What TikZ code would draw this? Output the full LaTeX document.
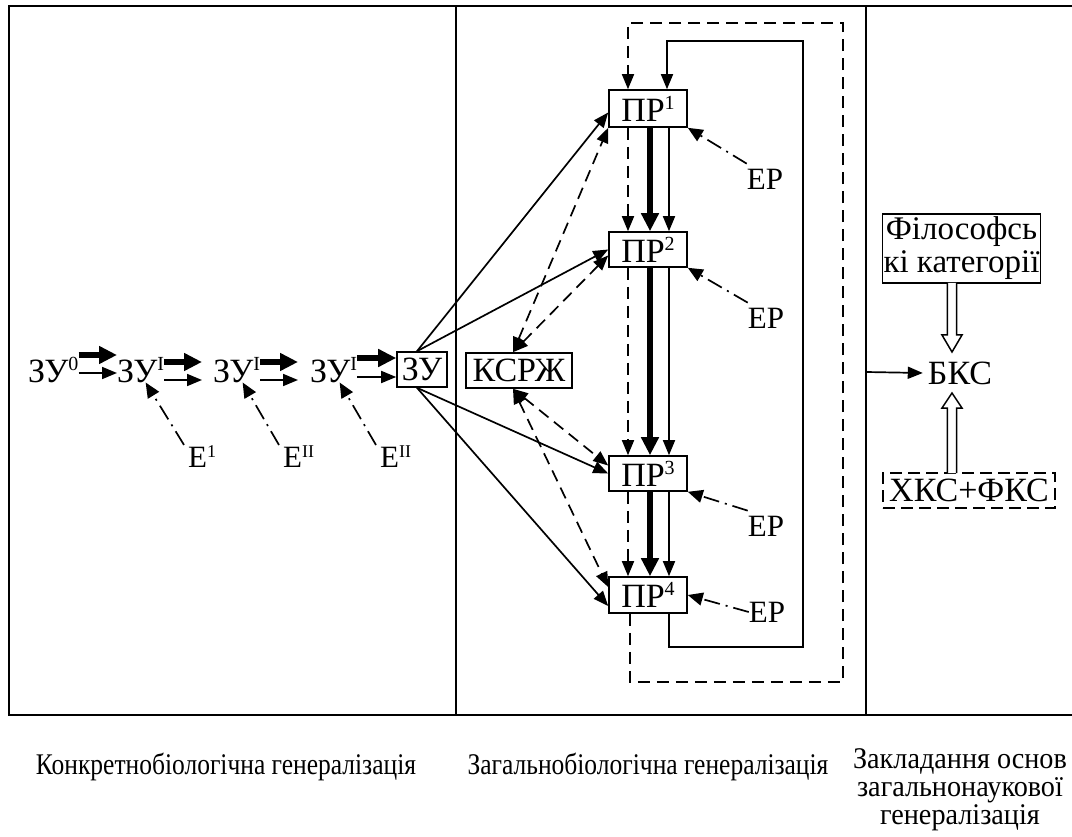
\documentclass[tikz,border=0pt]{standalone}
\usepackage{fontspec}
\setmainfont{Liberation Serif}
\usetikzlibrary{arrows.meta,calc}
\newcommand\sups[1]{\raisebox{12pt}{\fontsize{20}{20}\selectfont #1}}
\newcommand\supe[1]{\raisebox{10pt}{\fontsize{18}{18}\selectfont #1}}
\newcommand\cond[1]{\scalebox{0.85}[1]{#1}}
\newcommand\condb[1]{\scalebox{0.94}[1]{#1}}
\begin{document}
\begin{tikzpicture}[x=1pt,y=-1pt,
  >={Triangle[length=15pt,width=12pt]},
  frame/.style={line width=2pt},
  box/.style={draw,line width=1.6pt,inner sep=0pt,font=\fontsize{34}{34}\selectfont},
  lbl/.style={inner sep=0pt,font=\fontsize{34}{34}\selectfont},
  small/.style={inner sep=0pt,font=\fontsize{31}{31}\selectfont},
  bottom/.style={inner sep=0pt,font=\fontsize{30}{31}\selectfont},
  conn/.style={line width=1.7pt,->},
  dconn/.style={conn,dash pattern=on 12pt off 7pt},
  ddconn/.style={line width=1.7pt,dash pattern=on 12pt off 7pt,<->},
  fat/.style={line width=6pt,-{Triangle[length=18pt,width=17pt]}},
  dashdot/.style={line width=1.7pt,dash pattern=on 16pt off 6pt on 2pt off 6pt,-{Triangle[length=15pt,width=13pt]}},
]
\useasboundingbox (0,0) rectangle (1072,837);
% frame
\draw[frame] (1072,6) -- (9,6) -- (9,715) -- (1072,715);
\draw[frame] (456,6) -- (456,715);
\draw[frame] (866,6) -- (866,715);

% left chain
\node[lbl,anchor=base west] (z0) at (28,382) {ЗУ\sups{0}};
\node[lbl,anchor=base west] (z1) at (117,382) {ЗУ\sups{I}};
\node[lbl,anchor=base west] (z2) at (213,382) {ЗУ\sups{I}};
\node[lbl,anchor=base west] (z3) at (310,382) {ЗУ\sups{I}};
\node[box,minimum width=50pt,minimum height=35pt] (zu) at (422,369.5) {ЗУ};

\draw[fat] (z0.east |- 0,355) -- (z1.west |- 0,355);
\draw[conn] (z0.east |- 0,373) -- (z1.west |- 0,373);
\draw[fat] (z1.east |- 0,362) -- ($(z2.west |- 0,362)+(-11,0)$);
\draw[conn] (z1.east |- 0,380) -- ($(z2.west |- 0,380)+(-11,0)$);
\draw[fat] (z2.east |- 0,362) -- ($(z3.west |- 0,362)+(-12,0)$);
\draw[conn] (z2.east |- 0,380) -- ($(z3.west |- 0,380)+(-12,0)$);
\draw[fat] (z3.east |- 0,358) -- (zu.west |- 0,358);
\draw[conn] (z3.east |- 0,377) -- (zu.west |- 0,377);

\node[small,anchor=base west] (e1) at (188,467) {Е\supe{1}};
\node[small,anchor=base west] (e2) at (283,467) {Е\supe{II}};
\node[small,anchor=base west] (e3) at (380,467) {Е\supe{II}};
\draw[dashdot] ([xshift=-4pt]e1.north west) -- ([xshift=5pt]z1.south);
\draw[dashdot] ([xshift=-4pt]e2.north west) -- ([xshift=6pt]z2.south);
\draw[dashdot] ([xshift=-4pt]e3.north west) -- ([xshift=6pt]z3.south);

% centre
\node[box,minimum width=78pt,minimum height=37pt] (p1) at (648,108.5) {ПР\sups{1}};
\node[box,minimum width=78pt,minimum height=35pt] (p2) at (648,249.5) {ПР\sups{2}};
\node[box,minimum width=78pt,minimum height=35pt] (p3) at (648,473.5) {ПР\sups{3}};
\node[box,minimum width=78pt,minimum height=36pt] (p4) at (648,595) {ПР\sups{4}};
\node[box,minimum width=106pt,minimum height=35pt] (ks) at (519,370.5) {КСРЖ};

\draw[conn] ([xshift=-5pt]zu.north) -- ([yshift=-4pt]p1.west);
\draw[conn] ([xshift=-5pt]zu.north) -- (p2.west);
\draw[conn] ([xshift=-5pt]zu.south) -- (p3.west);
\draw[conn] ([xshift=-5pt]zu.south) -- ([yshift=-11pt]p4.west);

\draw[ddconn] ([xshift=-6pt]ks.north) -- (p1.south west);
\draw[ddconn] ([xshift=-6pt]ks.north) -- ([yshift=-6pt]p2.west);
\draw[ddconn] ([xshift=-6pt]ks.south) -- ([yshift=8pt]p3.west);
\draw[ddconn] ([xshift=-6pt]ks.south) -- ([yshift=8pt]p4.west);

\foreach \a/\b in {p1/p2,p2/p3,p3/p4}{
  \draw[dconn] ([xshift=-20pt]\a.south) -- ([xshift=-20pt]\b.north);
  \draw[fat] ([xshift=2pt]\a.south) -- ([xshift=2pt]\b.north);
  \draw[conn] ([xshift=21pt]\a.south) -- ([xshift=21pt]\b.north);
}

\coordinate (sb) at (803,647);
\coordinate (st) at (803,41);
\draw[conn] ([xshift=21pt]p4.south) |- (sb) -- (st) -| ([xshift=19pt]p1.north);
\coordinate (db) at (843,682);
\coordinate (dt) at (843,23);
\draw[dconn] ([xshift=-18pt]p4.south) |- (db) -- (dt) -| ([xshift=-20pt]p1.north);

\node[small] (ep1) at (765,179) {ЕР};
\node[small] (ep2) at (766,318) {ЕР};
\node[small] (ep3) at (766,526) {ЕР};
\node[small] (ep4) at (767,612) {ЕР};
\draw[dashdot] ([yshift=5pt]ep1.north west) -- (p1.south east);
\draw[dashdot] ([yshift=5pt]ep2.north west) -- (p2.south east);
\draw[dashdot] ([yshift=5pt]ep3.north west) -- (p3.south east);
\draw[dashdot] (ep4.west) -- (p4.east);

% right
\node[lbl,inner sep=5pt] (bks) at (960,373) {БКС};
\coordinate (d2) at (866,372);
\draw[conn] (d2) -- (bks.west);
\node[box,align=center,inner sep=1pt,font=\fontsize{33}{33}\selectfont,minimum width=157pt,minimum height=69pt] (phil) at (961.5,248.5) {Філософсь\\кі категорії};
\node[box,dash pattern=on 12pt off 6pt,minimum width=172pt,minimum height=35pt] (xks) at (969,490.5) {ХКС+ФКС};
\draw[line width=1.5pt,fill=white] (947.3,283) -- (947.3,335) -- (942,335) -- (952,352) -- (962,335) -- (956.7,335) -- (956.7,283);
\draw[line width=1.5pt,fill=white] (947.3,473) -- (947.3,408) -- (942,408) -- (952,393) -- (962,408) -- (956.7,408) -- (956.7,473);

% bottom labels
\node[bottom,anchor=base] (l1) at (226,774) {\cond{Конкретнобіологічна генералізація}};
\node[bottom,anchor=base] (l2) at (648,774) {\cond{Загальнобіологічна генералізація}};
\node[bottom,align=center,anchor=north,font=\fontsize{30}{28}\selectfont] (l3) at (960,748) {\condb{Закладання основ}\\\condb{загальнонаукової}\\\condb{генералізація}};
\end{tikzpicture}
\end{document}
